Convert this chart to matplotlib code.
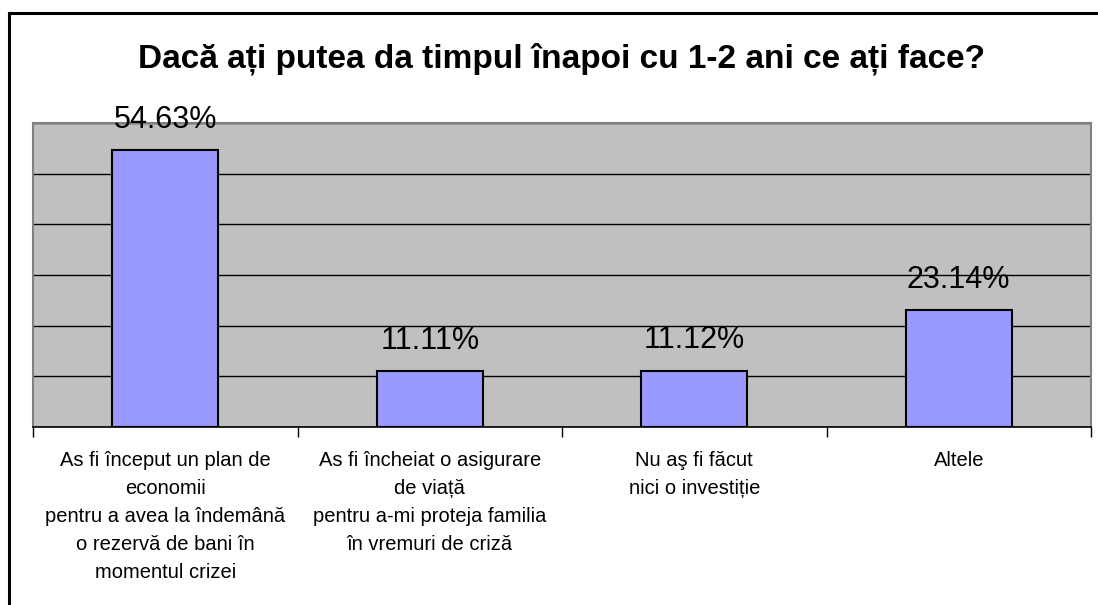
import matplotlib.pyplot as plt
from matplotlib.lines import Line2D
import numpy as np

categories = [
    "As fi început un plan de\neconomii\npentru a avea la îndemână\no rezervă de bani în\nmomentul crizei",
    "As fi încheiat o asigurare\nde viață\npentru a-mi proteja familia\nîn vremuri de criză",
    "Nu aş fi făcut\nnici o investiție",
    "Altele",
]
values = [54.63, 11.11, 11.12, 23.14]
labels = ["54.63%", "11.11%", "11.12%", "23.14%"]

plt.rcParams['font.family'] = ['Liberation Sans', 'DejaVu Sans']

fig = plt.figure(figsize=(10.98, 6.05), dpi=100)
ax = fig.add_axes([33 / 1098, 1 - 427 / 605, 1058 / 1098, 304 / 605])
ax.set_facecolor('#C0C0C0')

x = np.arange(len(values))
ax.bar(x, values, width=0.4, color='#9999FF', edgecolor='black', linewidth=1.5, zorder=3)
for xi, v, lab in zip(x, values, labels):
    ax.text(xi, v + 3.0, lab, ha='center', va='bottom', fontsize=22, zorder=4)

ax.set_xlim(-0.5, len(values) - 0.5)
ax.set_ylim(0, 60)
ax.set_yticks(np.arange(0, 61, 10))
ax.set_yticklabels([])
ax.tick_params(axis='y', length=0)
ax.grid(axis='y', color='black', linewidth=1)
ax.set_axisbelow(True)

ax.set_xticks(x)
ax.set_xticklabels(categories, fontsize=14.5, linespacing=1.6, va='top')
ax.set_xticks(np.arange(-0.5, len(values)), minor=True)
ax.tick_params(axis='x', which='major', length=0, pad=17)
ax.tick_params(axis='x', which='minor', length=7, width=1, color='black')

for side in ['top', 'left', 'right']:
    ax.spines[side].set_color('#808080')
    ax.spines[side].set_linewidth(1.5)
ax.spines['bottom'].set_color('black')
ax.spines['bottom'].set_linewidth(1.2)

fig.text(562 / 1098, 1 - 59 / 605, "Dacă ați putea da timpul înapoi cu 1-2 ani ce ați face?",
         ha='center', va='center', fontsize=24, fontweight='bold')

# chart frame (left and top edges only visible)
fig.add_artist(Line2D([9 / 1098, 9 / 1098], [0, 1 - 13 / 605], color='black', linewidth=2.2))
fig.add_artist(Line2D([9 / 1098, 1], [1 - 13 / 605, 1 - 13 / 605], color='black', linewidth=2.2))

fig.savefig('out.png', dpi=100)
